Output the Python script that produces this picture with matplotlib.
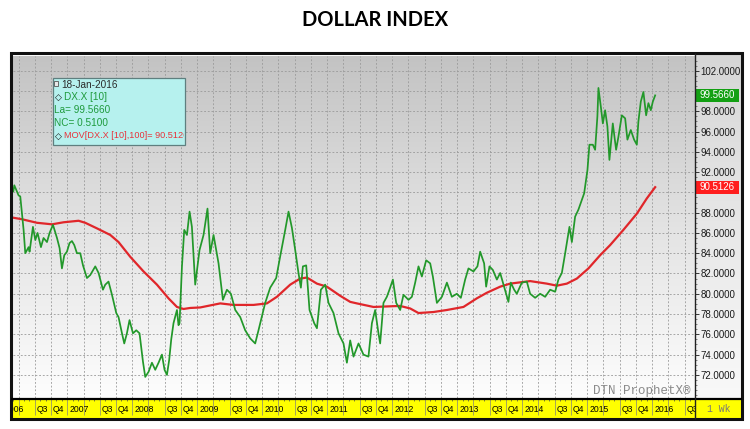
import numpy as np
import matplotlib
matplotlib.use('Agg')
import matplotlib.pyplot as plt
from matplotlib.patches import Rectangle
from matplotlib.colors import LinearSegmentedColormap
import matplotlib.transforms as mtransforms
from matplotlib.ticker import FixedLocator, MultipleLocator, NullFormatter, FuncFormatter

plt.rcParams['font.family'] = ['Liberation Sans', 'DejaVu Sans']

# ---------------- data ----------------
dx_dates = [2006.170, 2006.185, 2006.251, 2006.277, 2006.328, 2006.354, 2006.405, 2006.420,
            2006.472, 2006.508, 2006.543, 2006.595, 2006.635, 2006.688, 2006.728, 2006.780,
            2006.842, 2006.882, 2006.918, 2006.954, 2006.995, 2007.035, 2007.072, 2007.108,
            2007.149, 2007.200, 2007.242, 2007.303, 2007.354, 2007.431, 2007.482, 2007.549,
            2007.585, 2007.635, 2007.688, 2007.754, 2007.789, 2007.842, 2007.877, 2007.918,
            2007.958, 2008.011, 2008.062, 2008.112, 2008.165, 2008.200, 2008.251, 2008.303,
            2008.354, 2008.405, 2008.457, 2008.497, 2008.534, 2008.569, 2008.600, 2008.635,
            2008.688, 2008.712, 2008.728, 2008.765, 2008.800, 2008.842, 2008.882, 2008.918,
            2008.969, 2009.035, 2009.097, 2009.158, 2009.200, 2009.251, 2009.328, 2009.395,
            2009.457, 2009.518, 2009.585, 2009.662, 2009.738, 2009.815, 2009.892, 2009.943,
            2010.046, 2010.123, 2010.215, 2010.277, 2010.354, 2010.405, 2010.457, 2010.508,
            2010.558, 2010.595, 2010.626, 2010.677, 2010.728, 2010.800, 2010.842, 2010.903,
            2010.969, 2011.020, 2011.097, 2011.174, 2011.251, 2011.303, 2011.354, 2011.405,
            2011.482, 2011.558, 2011.635, 2011.688, 2011.738, 2011.789, 2011.815, 2011.866,
            2011.918, 2011.958, 2012.011, 2012.062, 2012.123, 2012.174, 2012.251, 2012.303,
            2012.354, 2012.405, 2012.457, 2012.523, 2012.585, 2012.626, 2012.688, 2012.765,
            2012.842, 2012.918, 2012.995, 2013.057, 2013.123, 2013.174, 2013.251, 2013.312,
            2013.354, 2013.415, 2013.446, 2013.497, 2013.549, 2013.611, 2013.662, 2013.723,
            2013.789, 2013.826, 2013.877, 2013.918, 2013.995, 2014.072, 2014.123, 2014.200,
            2014.277, 2014.354, 2014.431, 2014.508, 2014.558, 2014.611, 2014.662, 2014.728,
            2014.765, 2014.815, 2014.866, 2014.918, 2014.954, 2015.005, 2015.035, 2015.088,
            2015.123, 2015.158, 2015.174, 2015.211, 2015.242, 2015.277, 2015.312, 2015.343,
            2015.395, 2015.446, 2015.482, 2015.534, 2015.585, 2015.620, 2015.672, 2015.723,
            2015.765, 2015.789, 2015.826, 2015.866, 2015.908, 2015.943, 2015.980, 2016.011,
            2016.047]
dx_values = [90.1, 90.7, 89.7, 89.6, 86.3, 84.0, 84.6, 84.15,
             86.6, 85.3, 86.0, 84.6, 85.5, 85.1, 86.0, 86.8,
             85.5, 84.5, 82.5, 83.8, 84.15, 85.0, 85.2, 84.8,
             84.0, 84.0, 82.8, 81.55, 81.85, 82.7, 82.05, 80.4,
             80.9, 81.2, 79.9, 78.1, 77.7, 76.1, 75.1, 76.1,
             77.4, 76.1, 76.4, 76.1, 73.3, 71.8, 72.3, 73.2,
             72.5, 73.2, 74.0, 72.5, 72.0, 73.5, 75.5, 77.1,
             78.4, 76.9, 77.1, 82.7, 86.3, 85.8, 88.1, 86.6,
             80.9, 84.3, 85.8, 88.4, 84.0, 85.8, 83.0, 79.4,
             80.4, 80.0, 78.4, 77.7, 76.4, 75.6, 75.1, 76.4,
             79.1, 80.6, 81.55, 83.7, 86.3, 88.1, 86.5, 84.3,
             82.05, 80.6, 82.7, 82.8, 78.4, 77.1, 76.6, 80.4,
             80.9, 79.1, 78.1, 76.1, 75.1, 73.2, 75.4, 73.8,
             75.1, 74.0, 73.8, 77.1, 78.4, 76.1, 75.1, 79.1,
             79.7, 80.4, 81.4, 79.1, 78.4, 79.9, 79.4, 79.7,
             81.1, 82.7, 81.7, 83.3, 83.0, 81.7, 79.1, 79.7,
             81.1, 79.7, 80.0, 79.6, 81.4, 82.5, 82.2, 82.7,
             84.15, 83.0, 80.7, 82.7, 82.35, 81.4, 82.05, 80.7,
             79.2, 81.1, 80.4, 80.0, 81.1, 81.2, 80.0, 79.6,
             80.0, 79.7, 80.4, 80.2, 81.4, 82.05, 84.0, 86.6,
             85.1, 87.6, 88.3, 89.25, 89.9, 92.2, 94.7, 94.7,
             94.2, 97.5, 100.3, 98.45, 96.8, 98.1, 96.5, 93.2,
             96.8, 94.2, 95.5, 97.6, 97.3, 95.2, 96.15, 95.2,
             94.7, 97.0, 98.95, 99.9, 97.6, 98.8, 98.1, 98.95,
             99.566]

ma_dates = [2006.170, 2006.303, 2006.534, 2006.765, 2006.943, 2007.174, 2007.277, 2007.457,
            2007.662, 2007.789, 2007.969, 2008.174, 2008.380, 2008.558, 2008.688, 2008.789,
            2008.892, 2009.046, 2009.354, 2009.558, 2009.866, 2010.072, 2010.226, 2010.431,
            2010.585, 2010.688, 2010.842, 2010.995, 2011.200, 2011.354, 2011.457, 2011.712,
            2012.123, 2012.277, 2012.405, 2012.635, 2012.842, 2013.097, 2013.303, 2013.457,
            2013.662, 2013.815, 2014.123, 2014.380, 2014.534, 2014.688, 2014.842, 2015.020,
            2015.200, 2015.354, 2015.558, 2015.765, 2015.918, 2016.047]
ma_values = [87.5, 87.35, 87.0, 86.85, 87.05, 87.2, 87.0, 86.45,
             85.8, 85.1, 83.65, 82.2, 80.9, 79.55, 78.7, 78.5,
             78.6, 78.65, 79.05, 78.9, 78.9, 79.05, 79.7, 80.9,
             81.5, 81.6, 81.0, 80.7, 79.8, 79.2, 79.05, 78.7,
             78.8, 78.55, 78.1, 78.2, 78.4, 78.7, 79.55, 80.1,
             80.7, 81.0, 81.25, 81.0, 80.8, 81.0, 81.5, 82.5,
             83.8, 84.8, 86.3, 87.9, 89.4, 90.5126]

title = "DOLLAR INDEX"
info_date = "18-Jan-2016"
symbol = "DX.X [10]"
last_value = 99.5660
net_change = 0.5100
ma_label = "MOV[DX.X [10],100]"
ma_last = 90.5126
y_ticks = list(range(72, 104, 2))
tick_years = list(range(2006, 2017))
quarter_names = ["", "", "Q3", "Q4"]

# ---------------- layout (pixels) ----------------
W, H = 750, 429
FL, FR, FT, FB = 11, 742, 53, 419      # outer frame
PL, PR, PT, PB = 13, 695, 56, 398      # plot area
BT, BB = 400, 418                      # yellow date band

fig = plt.figure(figsize=(W / 100, H / 100), dpi=100)
fig.patch.set_facecolor('white')

def fig_rect(l, t, r, b):
    return [l / W, 1 - b / H, (r - l) / W, (b - t) / H]

def disp_box(l, t, r, b):
    return mtransforms.Bbox.from_extents(l, H - b, r, H - t)

# background layer
bg = fig.add_axes([0, 0, 1, 1], zorder=0)
bg.axis('off')
grad = np.linspace(0, 1, 256).reshape(-1, 1)
cm_plot = LinearSegmentedColormap.from_list('p', ['#c3c3c3', '#e3e3e3', '#fdfdfd'])
cm_right = LinearSegmentedColormap.from_list('r', ['#d6d6d6', '#f9f9f9'])
bg.imshow(grad, extent=[PL, PR, PB, PT], cmap=cm_plot, aspect='auto', interpolation='bilinear')
bg.imshow(grad, extent=[PR, FR, PB, FT], cmap=cm_right, aspect='auto', interpolation='bilinear')
bg.add_patch(Rectangle((FL, PB), PR - FL, FB - PB, facecolor='#ffff00', edgecolor='none'))
bg.set_xlim(0, W)
bg.set_ylim(H, 0)

# data axes
ax = fig.add_axes(fig_rect(PL, PT, PR, PB), zorder=1)
ax.set_facecolor('none')
ax.plot(ma_dates, ma_values, color='#e0262a', lw=1.6, zorder=3, solid_joinstyle='round')
ax.plot(dx_dates, dx_values, color='#22982a', lw=1.25, zorder=4, solid_joinstyle='round')
for s in ax.spines.values():
    s.set_visible(False)

# y axis on the right (labels hidden under the value tags are left blank)
hidden = {round(last_value / 2) * 2, round(ma_last / 2) * 2}
ax.yaxis.tick_right()
ax.yaxis.set_major_locator(FixedLocator(y_ticks))
ax.yaxis.set_minor_locator(MultipleLocator(0.5))
ax.yaxis.set_major_formatter(FuncFormatter(lambda v, p: "" if round(v) in hidden else f"{v:.4f}"))
ax.tick_params(axis='y', which='major', direction='out', length=3, width=0.6,
               pad=1, labelsize=7, colors='#1a1a1a')
ax.tick_params(axis='y', which='minor', direction='out', length=1.2, width=0.5, colors='#555555')

# x axis (quarters): ticks from the axis, labels as left-aligned texts in the band
q_pos, q_lab = [], []
for yr in tick_years:
    for q in range(4):
        q_pos.append(yr + q * 0.25)
        q_lab.append(str(yr) if q == 0 else quarter_names[q])
ax.xaxis.set_major_locator(FixedLocator(q_pos))
ax.xaxis.set_major_formatter(NullFormatter())
ax.xaxis.set_minor_locator(MultipleLocator(1 / 12))
ax.tick_params(axis='x', which='major', direction='out', length=12, width=0.5, colors='#808080')
ax.tick_params(axis='x', which='minor', direction='out', length=2.2, width=0.5, colors='#505050')

# view limits (set after the tick locators so they are not widened)
ax.set_xlim(2006.165, 2016.66)
ax.set_ylim(69.72, 103.45)

lab_y = (PB - (BT + BB) / 2) / (PB - PT)
offset = mtransforms.ScaledTranslation(2 / 100, 0, fig.dpi_scale_trans)
xtrans = ax.get_xaxis_transform() + offset
band_clip = disp_box(FL + 1, BT - 2, PR, BB + 2)
for pos, lab in zip(q_pos, q_lab):
    if lab:
        t = ax.text(pos, lab_y, lab, transform=xtrans, ha='left', va='center',
                    fontsize=6.2, color='black')
        t.set_clip_box(band_clip)
        t.set_clip_on(True)

ax.grid(True, which='major', color='#9a9a9a', linestyle=(0, (2.2, 2.2)), lw=0.6)

# last value tags on the right axis
blend = mtransforms.blended_transform_factory(ax.transAxes, ax.transData)
for val, col in [(last_value, '#13a013'), (ma_last, '#ff1e1e')]:
    ax.add_patch(Rectangle((1.0 + 1 / 682, val - 0.64), 43 / 682, 1.28, transform=blend,
                           facecolor=col, edgecolor='none', clip_on=False, zorder=10))
    ax.text(1.0 + 4 / 682, val, f"{val:.4f}", transform=blend, ha='left', va='center',
            fontsize=7, color='white', zorder=11, clip_on=False)

# overlay layer
ov = fig.add_axes([0, 0, 1, 1], zorder=3)
ov.set_facecolor('none')
ov.axis('off')
ov.set_xlim(0, W)
ov.set_ylim(H, 0)
ov.add_patch(Rectangle((PR, PB + 1), FR - PR, FB - PB - 1, facecolor='#ffff00', edgecolor='none'))
ov.text((PR + FR) / 2, (BT + BB) / 2, "1 Wk", family='Liberation Mono', fontsize=7,
        color='#777777', ha='center', va='center')
ov.plot([FL, FR], [PB + 1, PB + 1], color='black', lw=1.6, solid_capstyle='butt')
ov.plot([PR, PR], [FT, FB], color='#222222', lw=1.0, solid_capstyle='butt')
ov.add_patch(Rectangle((FL, FT), FR - FL, FB - FT, fill=False, edgecolor='#111111', lw=2.2))

# watermark
ov.text(642, 391, "DTN ProphetX\u00ae", family='Liberation Mono', fontsize=9,
        color='#8a8a8a', ha='center', va='center')

# info box
LB = (52.5, 78, 185, 145)
ov.add_patch(Rectangle((LB[0], LB[1]), LB[2] - LB[0], LB[3] - LB[1], facecolor='#b6f1ee',
                       edgecolor='#5f7f7f', lw=0.9))
ov.add_patch(Rectangle((53.5, 81), 4.5, 4.5, facecolor='#e8e8e8', edgecolor='#555555', lw=0.6))
fs = 6.9
green_txt = '#1e9a3c'
red_txt = '#e8323a'
ov.text(61.5, 84.5, info_date, fontsize=fs + 0.3, color='#2a2a2a', va='center', ha='left')
ov.text(58.2, 97.5, "\u25c7", family=['DejaVu Sans'], fontsize=6.5, color='#111111',
        va='center', ha='center')
ov.text(64.5, 97.5, symbol, fontsize=fs + 0.3, color=green_txt, va='center', ha='left')
ov.text(54.5, 110.2, f"La= {last_value:.4f}", fontsize=fs + 0.3, color=green_txt,
        va='center', ha='left')
ov.text(54.5, 122.8, f"NC= {net_change:.4f}", fontsize=fs + 0.3, color=green_txt,
        va='center', ha='left')
ov.text(58.2, 136, "\u25c7", family=['DejaVu Sans'], fontsize=6.5, color='#111111',
        va='center', ha='center')
mtxt = ov.text(64.0, 136, f"{ma_label}= {ma_last:.4f}", fontsize=6.6,
               color=red_txt, va='center', ha='left')
mtxt.set_clip_box(disp_box(LB[0], LB[1], LB[2] - 1, LB[3]))
mtxt.set_clip_on(True)

# title
fig.text(375 / W, 1 - 20 / H, title, family=['Lato', 'Liberation Sans'], fontweight='bold',
         fontsize=14.5, color='black', ha='center', va='center')

fig.savefig('out.png', dpi=100, facecolor='white')
